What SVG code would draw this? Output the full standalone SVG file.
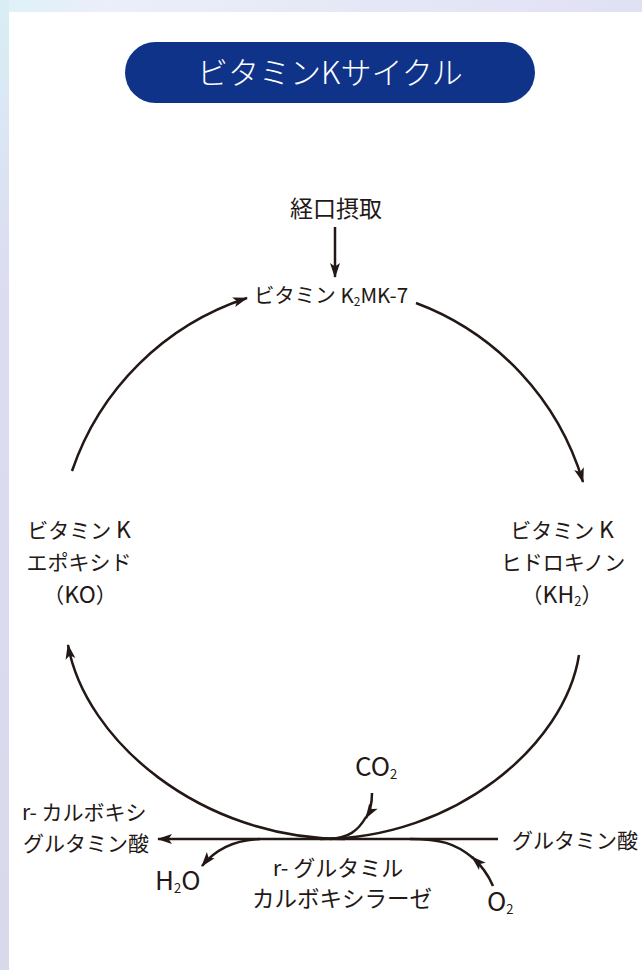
<svg xmlns="http://www.w3.org/2000/svg" width="642" height="970" viewBox="0 0 642 970">
<defs>
<linearGradient id="bg" x1="0" y1="0" x2="1" y2="0.3">
<stop offset="0" stop-color="#dcf2f6"/>
<stop offset="0.15" stop-color="#eceef9"/>
<stop offset="1" stop-color="#dfdff3"/>
</linearGradient>
<linearGradient id="side" x1="0" y1="0" x2="0" y2="1">
<stop offset="0" stop-color="#d9eef4"/>
<stop offset="0.3" stop-color="#dcdcf1"/>
<stop offset="1" stop-color="#d9d9ec"/>
</linearGradient>
<marker id="ah" markerUnits="userSpaceOnUse" markerWidth="16" markerHeight="12" refX="14" refY="5" orient="auto" overflow="visible">
<path d="M0,0 L15,5 L0,10 L3.5,5 Z" fill="#231815"/>
</marker>
</defs>
<style>
.t{font-family:"Noto Sans CJK JP","Noto Sans",sans-serif;font-weight:400;fill:#231815;font-size:21px}
.c{text-anchor:middle}
.s{font-size:13px}
.L{font-size:23px}
.ln{fill:none;stroke:#231815;stroke-width:2.5;stroke-linecap:butt}
</style>
<rect x="0" y="0" width="642" height="970" fill="url(#bg)"/>
<rect x="0" y="0" width="9" height="970" fill="url(#side)"/>
<rect x="9" y="12" width="633" height="958" fill="#ffffff"/>

<g id="title">
<rect x="125" y="42" width="410" height="61" rx="30.5" fill="#0f3389"/>
<text x="330" y="84" font-family="'Noto Sans CJK JP','Noto Sans',sans-serif" font-weight="300" font-size="31" fill="#ffffff" text-anchor="middle">ビタミンKサイクル</text>
</g>

<g id="connectors">
<path class="ln" d="M335,227 L335,277" marker-end="url(#ah)"/>
<path class="ln" d="M72,471 A275,275 0 0 1 247,298" marker-end="url(#ah)"/>
<path class="ln" d="M416,303 A275,275 0 0 1 583,482" marker-end="url(#ah)"/>
<path class="ln" d="M345,839 C200,839 85,740 68,645" marker-end="url(#ah)"/>
<path class="ln" d="M579,655 C565,745 455,839 320,839"/>
<path class="ln" d="M498,839 L158,839" marker-end="url(#ah)"/>
<path class="ln" d="M372,793 C372,803 371,810 366,818" marker-end="url(#ah)"/>
<path class="ln" d="M366,817 C358,831 348,838 330,839"/>
<path class="ln" d="M493,886 C488,874 482,866 472,857" marker-end="url(#ah)"/>
<path class="ln" d="M473,858 C455,843 440,839 410,839"/>
<path class="ln" d="M260,839 C232,840 214,851 202,866" marker-end="url(#ah)"/>
</g>

<g id="intake">
<text class="t c" x="336" y="217" style="font-size:23px">経口摂取</text>
</g>

<g id="mk7">
<text class="t c" x="331" y="303" style="font-size:20.5px">ビタミン K<tspan class="s" style="font-size:12px" dy="3">2</tspan><tspan dy="-3">MK-7</tspan></text>
</g>

<g id="ko">
<text class="t c" x="79" y="538">ビタミン <tspan class="L">K</tspan></text>
<text class="t c" x="79" y="570">エポキシド</text>
<text class="t c" x="80" y="603">（<tspan class="L">KO</tspan>）</text>
</g>

<g id="kh2">
<text class="t c" x="562" y="538">ビタミン <tspan class="L">K</tspan></text>
<text class="t c" x="563" y="570">ヒドロキノン</text>
<text class="t c" x="562" y="603">（<tspan class="L">KH</tspan><tspan class="s" dy="3">2</tspan><tspan dy="-3">）</tspan></text>
</g>

<g id="carboxy">
<text class="t" x="22" y="820">r- カルボキシ</text>
<text class="t" x="23" y="851">グルタミン酸</text>
</g>

<g id="glu">
<text class="t" x="512" y="848">グルタミン酸</text>
</g>

<g id="enzyme">
<text class="t c" x="338" y="876" style="font-size:22px">r- グルタミル</text>
<text class="t c" x="342" y="907" style="font-size:22.5px">カルボキシラーゼ</text>
</g>

<g id="co2">
<text class="t" x="355" y="776"><tspan style="font-size:26px">CO</tspan><tspan class="s" dy="3">2</tspan></text>
</g>
<g id="h2o">
<text class="t" x="155" y="890"><tspan style="font-size:26px">H</tspan><tspan class="s" dy="3">2</tspan><tspan style="font-size:26px" dy="-3">O</tspan></text>
</g>
<g id="o2">
<text class="t" x="487" y="911"><tspan style="font-size:26px">O</tspan><tspan class="s" dy="3">2</tspan></text>
</g>
</svg>
